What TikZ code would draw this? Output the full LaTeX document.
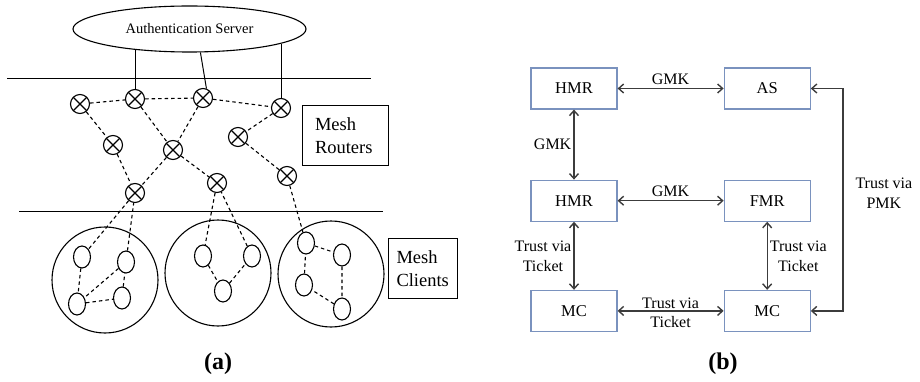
\documentclass[tikz,border=0pt]{standalone}
\usepackage{fontspec}
\setmainfont{Liberation Serif}
\usetikzlibrary{shapes.geometric, arrows.meta, positioning}

\definecolor{boxblue}{RGB}{122,146,190}
\definecolor{arrowgray}{RGB}{60,60,60}

\begin{document}
\begin{tikzpicture}[
                x=1pt, y=-1pt,
                node distance=70pt and 106pt,
                server/.style={ellipse, draw=black, line width=1.1pt, minimum width=233pt, minimum height=46pt, inner sep=0pt, font=\fontsize{14.5}{17}\selectfont},
                router/.style={circle, draw=black, line width=1.1pt, minimum size=19pt, inner sep=0pt,
                    path picture={\draw[line width=1.1pt] (path picture bounding box.north west) -- (path picture bounding box.south east)
                                  (path picture bounding box.north east) -- (path picture bounding box.south west);}},
                cluster/.style={circle, draw=black, line width=1.1pt, minimum size=106pt, inner sep=0pt},
                client/.style={ellipse, draw=black, line width=1.1pt, minimum width=17pt, minimum height=22pt, inner sep=0pt},
                wire/.style={line width=1pt},
                link/.style={line width=1.1pt, dash pattern=on 3.5pt off 3pt},
                legendbox/.style={rectangle, draw=black, line width=1pt, align=left, minimum height=60pt, font=\fontsize{18.5}{23}\selectfont},
                entity/.style={rectangle, draw=boxblue, line width=1.2pt, fill=white, minimum width=86pt, minimum height=41pt, font=\fontsize{16.5}{19}\selectfont},
                biarrow/.style={{Straight Barb[length=5pt,width=9pt]}-{Straight Barb[length=5pt,width=9pt]}, draw=arrowgray, line width=1.4pt},
                lbl/.style={align=center, inner sep=2pt, font=\fontsize{16}{20}\selectfont},
                caption/.style={font=\fontsize{24}{28}\selectfont\bfseries}
            ]%
            \useasboundingbox (0,0) rectangle (920,382);
            %
            % === (a) ===
            % Servidor y niveles
            \node[server] (auth) at (189.5,29) {Authentication Server};
            \draw[wire] (7,79) -- (371,79);
            \draw[wire] (19,211) -- (383,211);
            %
            % Routers de malla
            \node[router] (r1) at (80,104) {};
            \node[router] (r2) at (135,99) {};
            \node[router] (r3) at (203,98) {};
            \node[router] (r4) at (281,108) {};
            \node[router] (r5) at (113,145) {};
            \node[router] (r6) at (173,150) {};
            \node[router] (r7) at (238,137) {};
            \node[router] (r8) at (217,183) {};
            \node[router] (r9) at (287,176) {};
            \node[router] (r10) at (135,193) {};
            %
            % Grupos de clientes
            \node[cluster] (cl1) at (105,280) {};
            \node[cluster] (cl2) at (218,273) {};
            \node[cluster] (cl3) at (331,274) {};
            \node[client] (c1a) at (82,257) {};
            \node[client] (c1b) at (126,262) {};
            \node[client] (c1c) at (77,304) {};
            \node[client] (c1d) at (122,298) {};
            \node[client] (c2a) at (203,256) {};
            \node[client] (c2b) at (252,256) {};
            \node[client] (c2c) at (223,291) {};
            \node[client] (c3a) at (306,243) {};
            \node[client] (c3b) at (342,255) {};
            \node[client] (c3c) at (304,285) {};
            \node[client] (c3d) at (342,309) {};
            %
            % Cajas de texto
            \node[legendbox, text width=60pt, inner xsep=13pt] (routerbox) at (345,136) {Mesh\\Routers};
            \node[legendbox, text width=52pt, inner xsep=8.5pt] (clientbox) at (422.5,268.5) {Mesh\\Clients};
            %
            % Enlaces con el servidor
            \draw[wire] (r2.north) -- (r2.north |- auth.200);
            \draw[wire] (auth.295) -- (r3.70);
            \draw[wire] (r4.north) -- (r4.north |- auth.351);
            %
            % Enlaces entre routers
            \draw[link] (r1) -- (r2) -- (r3) -- (r4);
            \draw[link] (r1) -- (r5) -- (r10);
            \draw[link] (r2) -- (r6) -- (r10);
            \draw[link] (r3) -- (r6) -- (r8);
            \draw[link] (r4) -- (r7) -- (r9);
            %
            % Enlaces con clientes
            \draw[link] (r10) -- (c1a) -- (c1c) -- (c1d) -- (c1b) -- (r10);
            \draw[link] (c1b) -- (c1c);
            \draw[link] (r8) -- (c2a) -- (c2c) -- (c2b) -- (r8);
            \draw[link] (r9) -- (c3a) -- (c3b) -- (c3d) -- (c3c) -- (c3a);
            %
            \node[caption] (capA) at (218,364) {(a)};
            %
            % === (b) ===
            \node[entity] (hmrA) at (574,88.5) {HMR};
            \node[entity, right=of hmrA] (as) {AS};
            \node[entity, below=of hmrA] (hmrB) {HMR};
            \node[entity, right=of hmrB] (fmr) {FMR};
            \node[entity, below=68pt of hmrB] (mcA) {MC};
            \node[entity, right=of mcA] (mcB) {MC};
            %
            \draw[biarrow] (hmrA) -- node[lbl, above=1pt] {GMK} (as);
            \draw[biarrow] (hmrA) -- node[lbl, left] {GMK} (hmrB);
            \draw[biarrow] (hmrB) -- node[lbl, above=1pt] {GMK} (fmr);
            \draw[biarrow] (hmrB) -- node[lbl, left] {Trust via\\Ticket} (mcA);
            \draw[biarrow] (fmr) -- node[lbl, right] {Trust via\\Ticket} (mcB);
            \draw[biarrow] (mcA) -- node[lbl, above=0pt] {Trust via} node[lbl, below=3pt] {Ticket} (mcB);
            \draw[biarrow] (as.east) -- ++(32,0) |- node[lbl, pos=0.25, right=10pt, yshift=6pt] {Trust via\\PMK} (mcB.east);
            %
            \node[caption] (capB) at (723,364) {(b)};
        \end{tikzpicture}
\end{document}
